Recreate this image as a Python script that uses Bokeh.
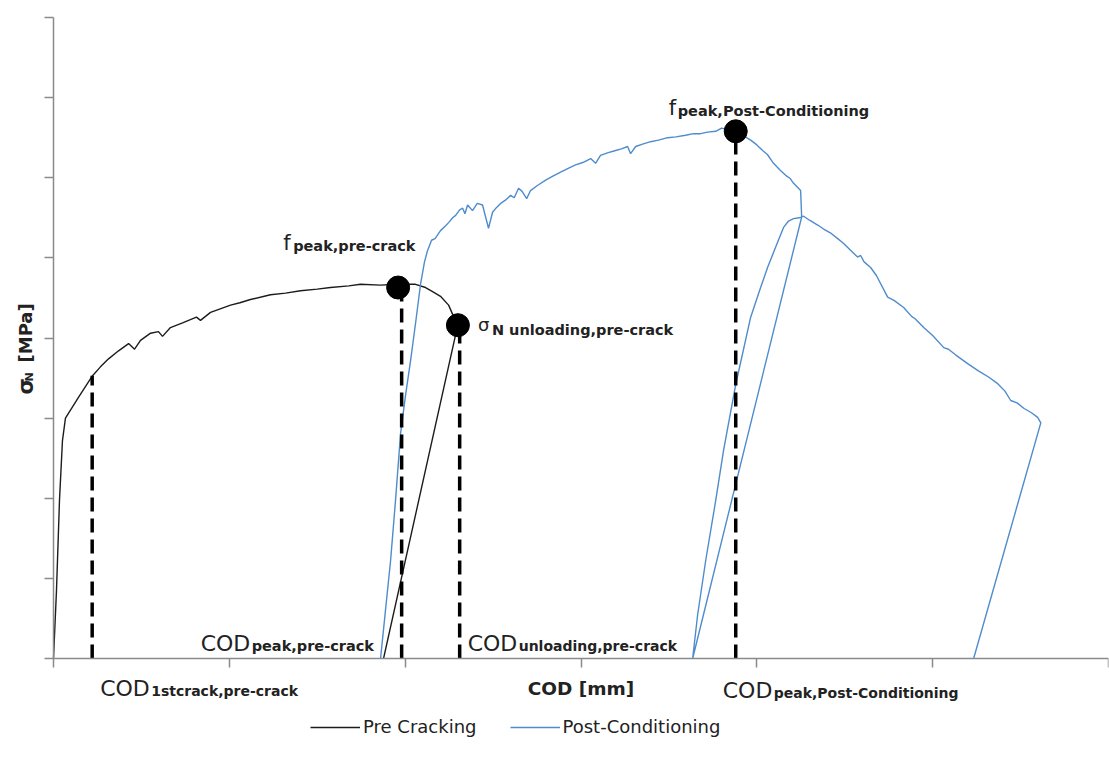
import math
from bokeh.plotting import figure
from bokeh.models import Range1d, FixedTicker, Label, Legend, LegendItem
from bokeh.embed import file_html
from bokeh.resources import INLINE

# ---------------- data (COD in axis-grid units, sigma_N in axis-grid units) ----------------
pre_cod = [0.000, 0.017, 0.034, 0.051, 0.068, 0.142, 0.222, 0.267, 0.313, 0.370,
           0.427, 0.461, 0.495, 0.552, 0.597, 0.620, 0.665, 0.734, 0.813, 0.836,
           0.893, 1.007, 1.060, 1.120, 1.234, 1.320, 1.405, 1.500, 1.575, 1.680,
           1.746, 1.860, 1.957, 2.059, 2.116, 2.156, 2.201, 2.247, 2.275, 2.300,
           1.877]
pre_sigma = [0.00, 0.85, 1.97, 2.72, 3.00, 3.26, 3.53, 3.64, 3.74, 3.84,
             3.93, 3.86, 3.97, 4.06, 4.08, 4.02, 4.13, 4.19, 4.26, 4.22,
             4.32, 4.41, 4.44, 4.48, 4.54, 4.56, 4.59, 4.61, 4.63, 4.65,
             4.67, 4.66, 4.67, 4.67, 4.63, 4.58, 4.52, 4.41, 4.27, 4.17,
             0.00]

post_cod = [1.860, 1.888, 1.917, 1.945, 1.974, 2.003, 2.031, 2.060, 2.088, 2.110,
            2.127, 2.150, 2.170, 2.201, 2.230, 2.247, 2.270, 2.287, 2.310, 2.327,
            2.340, 2.355, 2.383, 2.410, 2.440, 2.474, 2.497, 2.520, 2.543, 2.570,
            2.600, 2.620, 2.645, 2.665, 2.691, 2.713, 2.750, 2.799, 2.840, 2.884,
            2.930, 2.969, 3.010, 3.055, 3.083, 3.111, 3.150, 3.197, 3.230, 3.265,
            3.282, 3.311, 3.350, 3.396, 3.440, 3.493, 3.540, 3.595, 3.640, 3.680,
            3.720, 3.766, 3.800, 3.830, 3.879, 3.920, 3.965, 4.000, 4.033, 4.060,
            4.095, 4.130, 4.164, 4.190, 4.209, 4.249, 4.255, 3.635, 3.663, 3.709,
            3.766, 3.811, 3.879, 3.965, 4.020, 4.061, 4.110, 4.152, 4.180, 4.209,
            4.240, 4.266, 4.300, 4.346, 4.380, 4.420, 4.460, 4.494, 4.530, 4.573,
            4.590, 4.610, 4.647, 4.680, 4.744, 4.780, 4.835, 4.880, 4.900, 4.949,
            5.000, 5.063, 5.090, 5.130, 5.199, 5.260, 5.320, 5.370, 5.410, 5.444,
            5.480, 5.520, 5.560, 5.597, 5.615, 5.233]
post_sigma = [0.00, 0.60, 1.22, 1.97, 2.81, 3.30, 3.72, 4.20, 4.68, 4.95,
              5.09, 5.22, 5.24, 5.34, 5.40, 5.44, 5.50, 5.53, 5.60, 5.62,
              5.55, 5.66, 5.59, 5.68, 5.66, 5.37, 5.57, 5.63, 5.68, 5.72,
              5.78, 5.75, 5.87, 5.83, 5.74, 5.84, 5.90, 5.97, 6.02, 6.07,
              6.12, 6.16, 6.19, 6.24, 6.18, 6.28, 6.31, 6.34, 6.36, 6.39,
              6.30, 6.39, 6.42, 6.45, 6.47, 6.50, 6.51, 6.53, 6.55, 6.55,
              6.57, 6.58, 6.62, 6.60, 6.58, 6.53, 6.47, 6.41, 6.34, 6.29,
              6.18, 6.10, 6.03, 5.99, 5.93, 5.84, 5.51, 0.00, 0.54, 1.22,
              1.97, 2.60, 3.41, 4.26, 4.62, 4.88, 5.15, 5.38, 5.46, 5.49,
              5.50, 5.52, 5.47, 5.41, 5.36, 5.31, 5.24, 5.18, 5.10, 5.01,
              5.03, 4.95, 4.88, 4.78, 4.51, 4.47, 4.38, 4.27, 4.24, 4.13,
              4.03, 3.88, 3.86, 3.79, 3.68, 3.59, 3.51, 3.43, 3.34, 3.22,
              3.19, 3.12, 3.07, 3.01, 2.94, 0.00]

# characteristic points: [f_peak pre-crack, sigma_N unloading pre-crack, f_peak post-conditioning]
point_cod = [1.96, 2.30, 3.88]
point_sigma = [4.63, 4.16, 6.58]

# vertical COD markers: [1st crack, peak pre-crack, unloading pre-crack, peak post-conditioning]
cod_marks = [0.22, 1.98, 2.31, 3.88]
cod_mark_tops = [3.53, 4.63, 4.16, 6.58]
cod_mark_base = [0, 0, 0, 0]

x_ticks = [0, 1, 2, 3, 4, 5, 6]
y_ticks = [0, 1, 2, 3, 4, 5, 6, 7, 8]
x_lim = (0, 6)
y_lim = (0, 8)

FONT = "DejaVu Sans"
TXT = "#222222"
AX = "#8a8a8a"

# layout: plot area (frame) spans the whole canvas so that texts outside the axes are kept;
# the axes are pinned at the data origin.
W, H = 1109, 760
BL, BR, BT, BB = 11, 1, 0, 12
AX_LEFT_PX, AX_BOTTOM_PX, AX_TOP_PX = 53, 658, 17        # where the axes sit on the canvas
px_per_x = (W - BR - AX_LEFT_PX) / (x_lim[1] - x_lim[0])
px_per_y = (AX_BOTTOM_PX - AX_TOP_PX) / (y_lim[1] - y_lim[0])
x_range = Range1d(x_lim[0] - (AX_LEFT_PX - BL) / px_per_x, x_lim[1])
y_range = Range1d(y_lim[0] - (H - BB - AX_BOTTOM_PX) / px_per_y,
                  y_lim[1] + (AX_TOP_PX - BT) / px_per_y)

p = figure(width=W, height=H, output_backend="svg", toolbar_location=None,
           x_range=x_range, y_range=y_range,
           min_border_left=BL, min_border_right=BR, min_border_top=BT, min_border_bottom=BB)
p.xgrid.visible = False
p.ygrid.visible = False
p.outline_line_color = None
p.background_fill_color = "white"

for ax, ticks, lim in ((p.xaxis, x_ticks, x_lim), (p.yaxis, y_ticks, y_lim)):
    ax.ticker = FixedTicker(ticks=ticks)
    ax.fixed_location = 0
    ax.bounds = lim
    ax.axis_line_color = AX
    ax.axis_line_width = 1.5
    ax.major_tick_line_color = AX
    ax.major_tick_line_width = 1.5
    ax.major_tick_out = 9
    ax.major_tick_in = 0
    ax.minor_tick_out = 0
    ax.minor_tick_in = 0
    ax.major_label_overrides = {t: "" for t in ticks}
    ax.major_label_text_font_size = "1px"
    ax.major_label_standoff = 0

r_pre = p.line(pre_cod, pre_sigma, line_color="#1c1c1c", line_width=1.4)
r_post = p.line(post_cod, post_sigma, line_color="#4f8ccc", line_width=1.4)

p.segment(x0=cod_marks, y0=cod_mark_base, x1=cod_marks, y1=cod_mark_tops,
          line_color="black", line_width=3.5, line_dash="14 7")
p.scatter(point_cod, point_sigma, size=23, color="black")


def lab(x, y, text, dx, dy, size, bold=False, angle=0.0, align="left"):
    p.add_layout(Label(x=x, y=y, text=text, x_offset=dx, y_offset=dy, angle=angle,
                       text_font=FONT, text_font_size=f"{size}px",
                       text_font_style="bold" if bold else "normal",
                       text_color=TXT, text_align=align, text_baseline="alphabetic"))


# f_peak,pre-crack
lab(point_cod[0], point_sigma[0], "f", -115, 45, 21)
lab(point_cod[0], point_sigma[0], "peak,pre-crack", -105, 42, 14.5, True)
# sigma_N unloading,pre-crack
lab(point_cod[1], point_sigma[1], "σ", 20, 1, 18)
lab(point_cod[1], point_sigma[1], "N unloading,pre-crack", 34, -5, 14.5, True)
# f_peak,Post-Conditioning
lab(point_cod[2], point_sigma[2], "f", -67, 23, 21)
lab(point_cod[2], point_sigma[2], "peak,Post-Conditioning", -58, 20, 14.5, True)

# COD labels
lab(cod_marks[0], 0, "COD", 8, -30, 22)
lab(cod_marks[0], 0, "1stcrack,pre-crack", 59, -32, 14, True)
lab(cod_marks[1], 0, "COD", -201, 15, 22)
lab(cod_marks[1], 0, "peak,pre-crack", -150, 13, 14.5, True)
lab(cod_marks[2], 0, "COD", 8, 15, 22)
lab(cod_marks[2], 0, "unloading,pre-crack", 59, 13, 14, True)
lab(cod_marks[3], 0, "COD", -13, -32, 22)
lab(cod_marks[3], 0, "peak,Post-Conditioning", 38, -34, 14, True)

# axis titles
lab(sum(x_lim) / 2, 0, "COD [mm]", 0, -30, 18.5, True, align="center")
lab(0, 0, "σ", -28, 264, 21, True, angle=math.pi / 2)
lab(0, 0, "N", -24, 277, 11, True, angle=math.pi / 2)
lab(0, 0, "[MPa]", -28, 296, 18, True, angle=math.pi / 2)

legend = Legend(items=[LegendItem(label="Pre Cracking", renderers=[r_pre]),
                       LegendItem(label="Post-Conditioning", renderers=[r_post])],
                location=(310 - BL, (H - BB) - 737), orientation="horizontal",
                glyph_width=50, glyph_height=20, label_height=20, label_standoff=3, spacing=33,
                padding=0, margin=0, border_line_color=None, background_fill_alpha=0,
                label_text_font=FONT, label_text_font_size="18px", label_text_color=TXT)
p.add_layout(legend)

open("out.html", "w").write(file_html(p, INLINE))
